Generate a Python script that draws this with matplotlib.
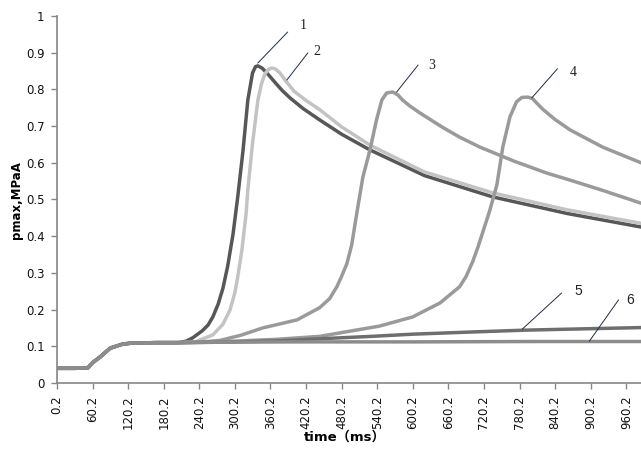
import matplotlib.pyplot as plt

# ==========================================================
# Data
# ==========================================================

# common start-up phase shared by all six runs
t_start = [0.2, 30, 52, 60, 73, 90, 111, 128, 170, 205]
p_start = [0.040, 0.040, 0.041, 0.055, 0.071, 0.095, 0.106, 0.109, 0.110, 0.110]

t_1 = [218, 229, 245, 255, 263, 272, 280, 288, 297, 305, 314, 322, 330,
       335, 339, 346, 354, 370, 380, 393, 415, 443, 480, 528, 620, 735,
       860, 985]
p_1 = [0.114, 0.123, 0.142, 0.158, 0.180, 0.215, 0.258, 0.318, 0.405, 0.507,
       0.635, 0.771, 0.845, 0.862, 0.864, 0.858, 0.845, 0.815, 0.797, 0.777,
       0.748, 0.717, 0.678, 0.635, 0.565, 0.507, 0.462, 0.425]

t_2 = [233, 263, 280, 292, 300, 305, 312, 319, 322, 330, 339, 345, 351,
       358, 363, 368, 376, 385, 400, 420, 443, 480, 528, 620, 735, 860, 985]
p_2 = [0.112, 0.131, 0.160, 0.199, 0.245, 0.289, 0.362, 0.460, 0.526, 0.654,
       0.771, 0.815, 0.843, 0.856, 0.858, 0.856, 0.845, 0.825, 0.795, 0.770,
       0.745, 0.698, 0.648, 0.575, 0.518, 0.472, 0.435]

t_3 = [240, 275, 310, 347, 405, 443, 460, 472, 480, 489, 497, 506, 516,
       528, 539, 548, 556, 566, 575, 583, 595, 612, 650, 679, 713, 770,
       826, 865, 920, 985]
p_3 = [0.111, 0.116, 0.130, 0.150, 0.172, 0.205, 0.230, 0.262, 0.290, 0.325,
       0.375, 0.465, 0.561, 0.635, 0.717, 0.771, 0.790, 0.793, 0.785, 0.771,
       0.755, 0.736, 0.697, 0.670, 0.643, 0.605, 0.572, 0.553, 0.525, 0.490]

t_4 = [230, 300, 370, 443, 544, 600, 646, 679, 690, 701, 710, 718, 730,
       742, 752, 764, 775, 784, 794, 802, 809, 820, 840, 865, 920, 985]
p_4 = [0.111, 0.114, 0.119, 0.127, 0.155, 0.180, 0.218, 0.262, 0.290, 0.330,
       0.370, 0.410, 0.470, 0.540, 0.643, 0.725, 0.766, 0.778, 0.779, 0.775,
       0.763, 0.745, 0.718, 0.690, 0.643, 0.600]

t_5 = [230, 300, 376, 450, 530, 600, 700, 790, 900, 985]
p_5 = [0.110, 0.112, 0.115, 0.121, 0.127, 0.133, 0.139, 0.144, 0.148, 0.151]

t_6 = [230, 400, 600, 800, 985]
p_6 = [0.111, 0.112, 0.112, 0.113, 0.113]

curve_t = [t_1, t_2, t_3, t_4, t_5, t_6]
curve_p = [p_1, p_2, p_3, p_4, p_5, p_6]
colors = ["#575757", "#c3c3c3", "#9a9a9a", "#9a9a9a", "#6e6e6e", "#8c8c8c"]

# curve numbers: (point on curve, end of leader, text position)
labels = ["1", "2", "3", "4", "5", "6"]
lead_from = [(339, 0.872), (388, 0.826), (573, 0.793),
             (801, 0.777), (785, 0.147), (898, 0.114)]
lead_to = [(389, 0.956), (423, 0.899), (609, 0.866),
           (844, 0.856), (851, 0.245), (947, 0.226)]
text_at = [(415, 0.973), (438, 0.902), (632, 0.864),
           (871, 0.847), (880, 0.251), (966, 0.226)]

x_ticks = [0.2 + 60 * k for k in range(17)]
y_ticks = [round(0.1 * k, 1) for k in range(11)]
y_tick_labels = ["0", "0.1", "0.2", "0.3", "0.4", "0.5",
                 "0.6", "0.7", "0.8", "0.9", "1"]


# ==========================================================
# Plot
# ==========================================================

fig = plt.figure(figsize=(6.41, 4.54), dpi=100)
ax = fig.add_axes([0.0889, 0.1564, 0.9111, 0.8084])

for t, p, c in zip(curve_t, curve_p, colors):
    ax.plot(t_start + t, p_start + p, color=c, lw=2.5,
            solid_joinstyle="round", solid_capstyle="round")

for lab, a, b, txt in zip(labels, lead_from, lead_to, text_at):
    ax.plot([a[0], b[0]], [a[1], b[1]], color="#1e2b48", lw=0.7)
    fam = "Liberation Serif" if lab in "1234" else "Liberation Sans"
    ax.text(txt[0], txt[1], lab, fontsize=10, family=fam,
            ha="center", va="center", color="#222222")

ax.set_xlim(0.2, 985)
ax.set_ylim(0, 1)

ax.set_xticks(x_ticks)
ax.set_xticklabels([f"{v:.1f}" for v in x_ticks], rotation=90)
ax.set_yticks(y_ticks)
ax.set_yticklabels(y_tick_labels)

ax.tick_params(axis="both", direction="out", length=4, width=1,
               color="#868686", labelsize=8.5, labelcolor="#111111")
ax.tick_params(axis="y", pad=5)
ax.tick_params(axis="x", pad=5)

for side in ["top", "right"]:
    ax.spines[side].set_visible(False)
for side in ["left", "bottom"]:
    ax.spines[side].set_color("#868686")
    ax.spines[side].set_linewidth(1.2)

fig.text(0.026, 0.56, "pmax,MPaA", rotation=90, fontsize=8.5,
         fontweight="bold", ha="center", va="center")
fig.text(0.538, 0.037, "time（ms）", fontsize=9.5, fontweight="bold",
         ha="center", va="center", family=["DejaVu Sans", "Noto Sans CJK SC"])

fig.savefig("out.png", dpi=100)
